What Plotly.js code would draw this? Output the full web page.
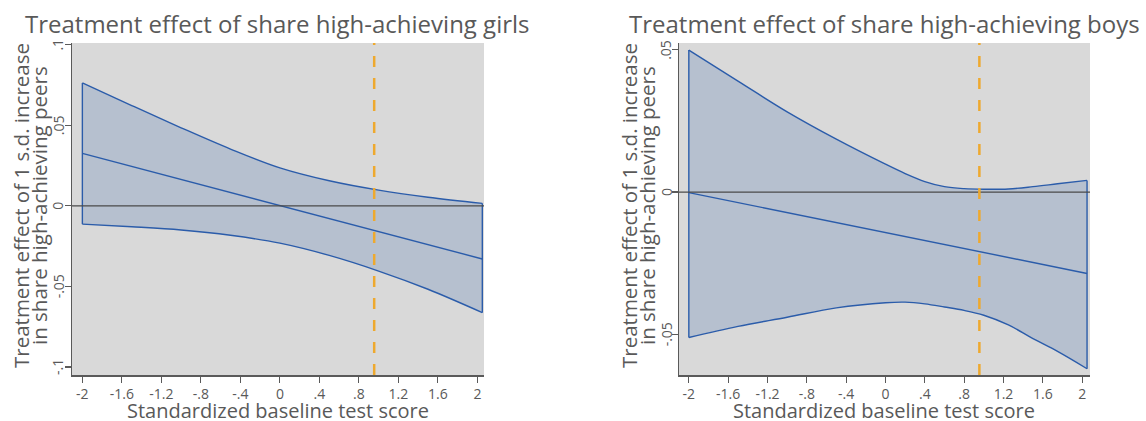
<!DOCTYPE html>
<html>
<head>
<meta charset="utf-8">
<script src="https://cdn.plot.ly/plotly-3.0.1.min.js"></script>
<style>
  html, body { margin: 0; padding: 0; background: #ffffff; }
  #chart { width: 1146px; height: 421px; }
</style>
</head>
<body>
<div id="chart"></div>
<script>
// ---------- data ----------
const girlsX     = [-2, -1.5, -1, -0.5, 0, 0.5, 1, 1.5, 2.05];
const girlsUpper = [0.0762, 0.0622, 0.0484, 0.0352, 0.0235, 0.0155, 0.0097, 0.0053, 0.0015];
const girlsMid   = [0.0325, 0.0244, 0.0163, 0.0083, 0.0002, -0.0079, -0.0160, -0.0241, -0.0330];
const girlsLower = [-0.0114, -0.0130, -0.0150, -0.0183, -0.0232, -0.0308, -0.0405, -0.0518, -0.0663];

const boysX     = [-2, -1.5, -1, -0.5, 0, 0.2, 0.4, 0.6, 0.8, 1.0, 1.25, 1.5, 1.75, 2.05];
const boysUpper = [0.0499, 0.0390, 0.0282, 0.0186, 0.0098, 0.0065, 0.0037, 0.0019, 0.0012, 0.0010, 0.0011, 0.0019, 0.0029, 0.0041];
const boysMid   = [-0.0002, -0.0037, -0.0072, -0.0107, -0.0142, -0.0156, -0.0170, -0.0184, -0.0198, -0.0212, -0.0230, -0.0247, -0.0265, -0.0286];
const boysLower = [-0.0511, -0.0472, -0.0440, -0.0407, -0.0389, -0.0387, -0.0393, -0.0404, -0.0416, -0.0433, -0.0467, -0.0515, -0.0560, -0.0621];

const cutoffX = 0.955;

const xTickVals = [-2, -1.6, -1.2, -0.8, -0.4, 0, 0.4, 0.8, 1.2, 1.6, 2];
const xTickText = ["-2", "-1.6", "-1.2", "-.8", "-.4", "0", ".4", ".8", "1.2", "1.6", "2"];
const girlsYTickVals = [-0.1, -0.05, 0, 0.05, 0.1];
const girlsYTickText = ["-.1", "-.05", "0", ".05", ".1"];
const boysYTickVals = [-0.05, 0, 0.05];
const boysYTickText = ["-.05", "0", ".05"];

const titles = ["Treatment effect of share high-achieving girls", "Treatment effect of share high-achieving boys"];
const yTitleLines = ["Treatment effect of 1 s.d. increase", "in share high-achieving peers"];
const xTitle = "Standardized baseline test score";

// ---------- style ----------
const W = 1146, H = 421;
const FONT = "Open Sans, Noto Sans, sans-serif";
const TXT = "#595959";
const AX = "#5a5a5a";
const LINE = "#2b5caa";
const FILL = "#b6c0cf";
const ORANGE = "#eea92e";
const LW = 1.4;

function bandTraces(xs, up, lo, m, xa, ya) {
  const n = xs.length - 1;
  const base = { xaxis: xa, yaxis: ya, type: "scatter", mode: "lines",
                 hoverinfo: "skip", showlegend: false };
  return [
    Object.assign({}, base, { x: xs, y: lo, line: { color: LINE, width: LW, shape: "spline", smoothing: 1 } }),
    Object.assign({}, base, { x: xs, y: up, fill: "tonexty", fillcolor: FILL,
                              line: { color: LINE, width: LW, shape: "spline", smoothing: 1 } }),
    Object.assign({}, base, { x: [xs[0], xs[0]], y: [lo[0], up[0]], line: { color: LINE, width: LW } }),
    Object.assign({}, base, { x: [xs[n], xs[n]], y: [lo[n], up[n]], line: { color: LINE, width: LW } }),
    Object.assign({}, base, { x: xs, y: m, line: { color: LINE, width: LW } })
  ];
}

const traces = [].concat(
  bandTraces(girlsX, girlsUpper, girlsLower, girlsMid, "x", "y"),
  bandTraces(boysX, boysUpper, boysLower, boysMid, "x2", "y2")
);

const px = v => v / W;
const py = v => (H - v) / H;

function xaxis(dom, range, anchor) {
  return {
    domain: dom, range: range, tickvals: xTickVals, ticktext: xTickText, anchor: anchor,
    showgrid: false, zeroline: false, showline: true, linecolor: AX, linewidth: 1.5,
    ticks: "outside", ticklen: 6, tickwidth: 1.2, tickcolor: AX,
    tickfont: { family: FONT, size: 14, color: TXT }, fixedrange: true
  };
}
function yaxis(dom, range, tv, anchor) {
  return {
    domain: dom, range: range, tickvals: tv, showticklabels: false,
    showgrid: false, zeroline: false, showline: true, linecolor: AX, linewidth: 1.5,
    ticks: "outside", ticklen: 6, tickwidth: 1.2, tickcolor: AX, anchor: anchor,
    fixedrange: true
  };
}

const yDom = [py(375), py(43)];

const annotations = [];
function addPanelText(title, titleX, axisX, plotMidX, yref, tv, tt) {
  annotations.push({ text: title, xref: "paper", yref: "paper", x: px(titleX), y: py(24),
    xanchor: "center", yanchor: "middle", showarrow: false,
    font: { family: FONT, size: 24, color: TXT } });
  annotations.push({ text: yTitleLines[0], xref: "paper", yref: "paper", x: px(axisX - 50), y: py(206),
    xanchor: "center", yanchor: "middle", showarrow: false, textangle: -90,
    font: { family: FONT, size: 20.5, color: TXT } });
  annotations.push({ text: yTitleLines[1], xref: "paper", yref: "paper", x: px(axisX - 32), y: py(206),
    xanchor: "center", yanchor: "middle", showarrow: false, textangle: -90,
    font: { family: FONT, size: 20.5, color: TXT } });
  annotations.push({ text: xTitle, xref: "paper", yref: "paper", x: px(plotMidX), y: py(410),
    xanchor: "center", yanchor: "middle", showarrow: false, borderpad: 0,
    height: 20, valign: "middle",
    font: { family: FONT, size: 20, color: TXT } });
  tv.forEach((v, i) => {
    annotations.push({ text: tt[i], xref: "paper", yref: yref, x: px(axisX - 13), y: v,
      xanchor: "center", yanchor: "middle", showarrow: false, textangle: -90,
      font: { family: FONT, size: 14, color: TXT } });
  });
}
addPanelText(titles[0], 277, 71, 278, "y", girlsYTickVals, girlsYTickText);
addPanelText(titles[1], 884, 679, 884, "y2", boysYTickVals, boysYTickText);

const layout = {
  width: W, height: H,
  margin: { l: 0, r: 0, t: 0, b: 0 },
  paper_bgcolor: "#ffffff",
  plot_bgcolor: "#d9d9d9",
  showlegend: false,
  xaxis: xaxis([px(72), px(484)], [-2.105, 2.067], "y"),
  yaxis: yaxis(yDom, [-0.105, 0.101], girlsYTickVals, "x"),
  xaxis2: xaxis([px(679), px(1090)], [-2.1, 2.08], "y2"),
  yaxis2: yaxis(yDom, [-0.0643, 0.0524], boysYTickVals, "x2"),
  shapes: [
    { type: "line", xref: "x domain", yref: "y", x0: 0, x1: 1, y0: 0, y1: 0,
      line: { color: "#4a4a4a", width: 1.2 }, layer: "above" },
    { type: "line", xref: "x2 domain", yref: "y2", x0: 0, x1: 1, y0: 0, y1: 0,
      line: { color: "#4a4a4a", width: 1.2 }, layer: "above" },
    { type: "line", xref: "x", yref: "y domain", x0: cutoffX, x1: cutoffX, y0: 0, y1: 1,
      line: { color: ORANGE, width: 2.5, dash: "11px,11px" }, layer: "above" },
    { type: "line", xref: "x2", yref: "y2 domain", x0: cutoffX, x1: cutoffX, y0: 0, y1: 1,
      line: { color: ORANGE, width: 2.5, dash: "11px,11px" }, layer: "above" }
  ],
  annotations: annotations
};

Plotly.newPlot("chart", traces, layout, { staticPlot: true, displayModeBar: false });
</script>
</body>
</html>
